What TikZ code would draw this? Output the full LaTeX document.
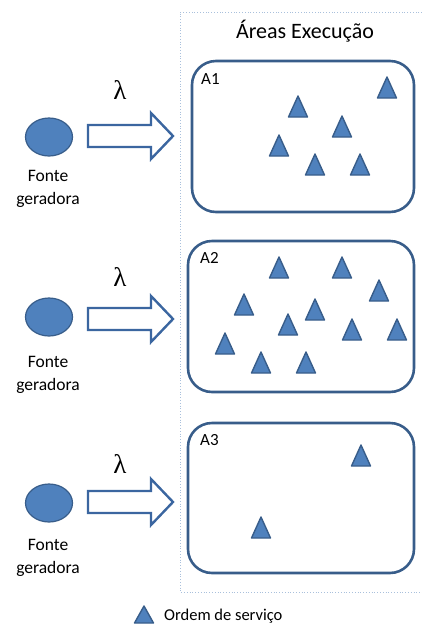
\documentclass[tikz,border=0pt]{standalone}
\usepackage{fontspec}
\setmainfont{Carlito}
\newfontfamily\lambdafont{Liberation Serif}
\usetikzlibrary{shapes.geometric}
\definecolor{officeblue}{HTML}{4F81BD}
\definecolor{officeedge}{HTML}{385D8A}
\definecolor{arrowedge}{HTML}{3B66A0}
\definecolor{framecol}{HTML}{A9C0DC}
\begin{document}
\begin{tikzpicture}[x=1pt,y=-1pt,
  area/.style={draw=officeedge, line width=2.6pt, rounded corners=24pt},
  arealabel/.style={anchor=west, font=\fontsize{17}{19}\selectfont, inner sep=0pt},
  source/.style={ellipse, fill=officeblue, draw=officeedge, line width=1.2pt,
    minimum width=47pt, minimum height=38pt, inner sep=0pt},
  sourcelabel/.style={align=center, font=\fontsize{17.5}{23}\selectfont, inner sep=0pt},
  rate/.style={font=\lambdafont\fontsize{27}{29}\selectfont, inner sep=0pt},
  order/.pic={\filldraw[fill=officeblue, draw=officeedge, line width=1.4pt, line join=round]
    (0,-21) -- (9.5,0) -- (-9.5,0) -- cycle;},
  flow/.pic={\draw[draw=arrowedge, fill=white, line width=2.4pt, line join=miter]
    (0,-11) -- (63,-11) -- (63,-23) -- (85,0) -- (63,23) -- (63,11) -- (0,11) -- cycle;}
]
\useasboundingbox (0,0) rectangle (422,625);

% frame of the execution areas
\draw[framecol, line width=0.8pt, dotted] (422,12) -- (180,12) -- (180,592) -- (422,592);
\node[font=\fontsize{22}{26}\selectfont, inner sep=0pt] (title) at (305,31) {Áreas Execução};

% execution areas
\draw[area] (192,61) rectangle (414,212);
\draw[area] (188,241) rectangle (414,392);
\draw[area] (188,423) rectangle (414,573);
\node[arealabel] (labA1) at (201,79) {A1};
\node[arealabel] (labA2) at (200,258) {A2};
\node[arealabel] (labA3) at (200,440) {A3};

% service orders in A1
\foreach \x/\y in {298/117, 387/98, 342/137, 279/156, 315/175, 360/175}
  \pic at (\x,\y) {order};
% service orders in A2
\foreach \x/\y in {279/278, 342/278, 379/301, 244/315, 315/320, 288/335,
                   352/340, 397/340, 225/354, 261/373, 306/373}
  \pic at (\x,\y) {order};
% service orders in A3
\foreach \x/\y in {361/466, 261/538}
  \pic at (\x,\y) {order};

% generating sources with their arrival rate
\node[source] (s1) at (49,137) {};
\node[source] (s2) at (49,317) {};
\node[source] (s3) at (49,503) {};
\node[sourcelabel] (f1) at (48,189) {Fonte\\geradora};
\node[sourcelabel] (f2) at (48,375) {Fonte\\geradora};
\node[sourcelabel] (f3) at (48,558) {Fonte\\geradora};
\pic at (88,136) {flow};
\pic at (88,319) {flow};
\pic at (88,502) {flow};
\node[rate] (r1) at (120,90) {λ};
\node[rate] (r2) at (120,277) {λ};
\node[rate] (r3) at (120,464) {λ};

% legend
\filldraw[fill=officeblue, draw=officeedge, line width=1.4pt, line join=round]
  (144,606) -- (153.5,623) -- (134.5,623) -- cycle;
\node[anchor=west, font=\fontsize{16.5}{19}\selectfont, inner sep=0pt] (legend) at (164,616) {Ordem de serviço};
\end{tikzpicture}
\end{document}
